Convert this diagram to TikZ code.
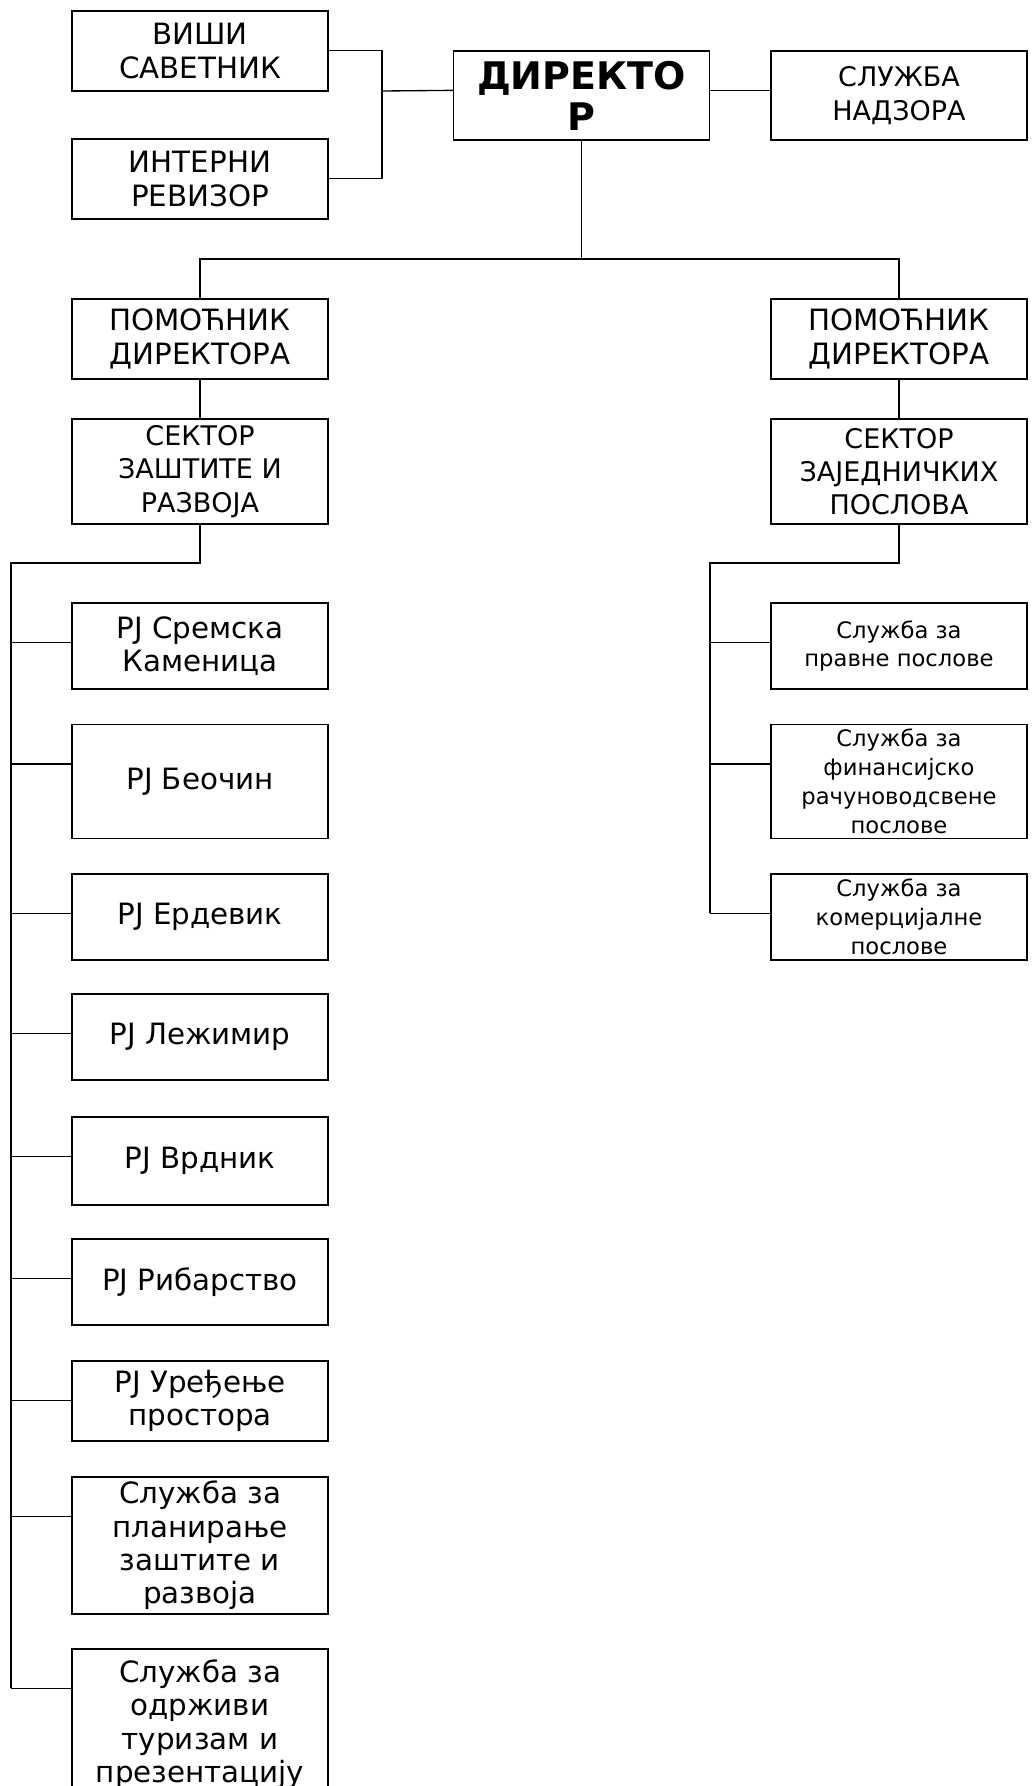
\documentclass[tikz,border=0pt]{standalone}
\usepackage{fontspec}
\setmainfont{DejaVu Sans}
\usetikzlibrary{calc}

\tikzset{
  unit/.style={draw, line width=1pt, minimum width=192pt, inner sep=1pt, align=center,
    font=\fontsize{22}{25}\selectfont},
  mid/.style={font=\fontsize{20.25}{25}\selectfont},
  small/.style={font=\fontsize{17}{21.6}\selectfont},
  head/.style={font=\bfseries\fontsize{28.5}{30.75}\selectfont},
  link/.style={line width=1pt},
}

\begin{document}
\begin{tikzpicture}[x=0.75pt,y=-0.75pt]
    \useasboundingbox (0,0) rectangle (1033,1786);
    \clip (0,0) rectangle (1033,1786);

    % top level
    \node[unit,minimum height=60pt] (visi) at (200,51) {ВИШИ\\САВЕТНИК};
    \node[unit,minimum height=60pt] (interni) at (200,179) {ИНТЕРНИ\\РЕВИЗОР};
    \node[unit,head,minimum height=66.75pt] (dir) at (581.5,95.5) {ДИРЕКТО\\Р};
    \node[unit,mid,minimum height=66.75pt] (nadzor) at (899,95.5) {СЛУЖБА\\НАДЗОРА};

    % assistants and sectors
    \node[unit,minimum height=60pt] (pom1) at (200,339) {ПОМОЋНИК\\ДИРЕКТОРА};
    \node[unit,minimum height=60pt] (pom2) at (899,339) {ПОМОЋНИК\\ДИРЕКТОРА};
    \node[unit,mid,minimum height=78.75pt] (sek1) at (200,471.5) {СЕКТОР\\ЗАШТИТЕ И\\РАЗВОЈА};
    \node[unit,mid,minimum height=78.75pt] (sek2) at (899,471.5) {СЕКТОР\\ЗАЈЕДНИЧКИХ\\ПОСЛОВА};

    % units of the left sector
    \node[unit,minimum height=64.5pt] (sremska) at (200,646) {PJ Сремска\\Каменица};
    \node[unit,minimum height=85.5pt] (beocin) at (200,781.5) {PJ Беочин};
    \node[unit,minimum height=64.5pt] (erdevik) at (200,917) {PJ Ердевик};
    \node[unit,minimum height=64.5pt] (lezimir) at (200,1037) {PJ Лежимир};
    \node[unit,minimum height=66pt] (vrdnik) at (200,1161) {PJ Врдник};
    \node[unit,minimum height=64.5pt] (ribarstvo) at (200,1282) {PJ Рибарство};
    \node[unit,minimum height=60pt] (uredjenje) at (200,1401) {PJ Уређење\\простора};
    \node[unit,minimum height=102.75pt] (planiranje) at (200,1545.5) {Служба за\\планирање\\заштите и\\развоја};
    \node[unit,minimum height=112.5pt] (odrzivi) at (200,1724) {Служба за\\одрживи\\туризам и\\презентацију};

    % services of the right sector
    \node[unit,small,minimum height=64.5pt] (pravne) at (899,646) {Служба за\\правне послове};
    \node[unit,small,minimum height=85.5pt] (finansije) at (899,781.5) {Служба за\\финансијско\\рачуноводсвене\\послове};
    \node[unit,small,minimum height=64.5pt] (komerc) at (899,917) {Служба за\\комерцијалне\\послове};

    % connectors
    \coordinate (tj) at (382,91);
    \draw[link] ($(visi.north east)+(0,40)$) -| (tj);
    \draw[link] ($(interni.north east)+(0,40)$) -| (tj);
    \draw[link] (tj) -- ($(dir.north west)+(0,40)$);
    \draw[link] ($(dir.north east)+(0,40)$) -- ($(nadzor.north west)+(0,40)$);

    \coordinate (split) at (581.5,259);
    \draw[link] (dir.south) -- (split);
    \draw[link] (pom1.north) |- (split) -| (pom2.north);
    \draw[link] (pom1.south) -- (sek1.north);
    \draw[link] (pom2.south) -- (sek2.north);

    \coordinate (lbus) at (11,563);
    \coordinate (rbus) at (710,563);
    \foreach \n in {sremska,beocin,erdevik,lezimir,vrdnik,ribarstvo,uredjenje,planiranje,odrzivi}{
        \coordinate (\n-in) at ($(\n.north west)+(0,40)$);
        \draw[link] (lbus |- \n-in) -- (\n-in);
    }
    \foreach \n in {pravne,finansije,komerc}{
        \coordinate (\n-in) at ($(\n.north west)+(0,40)$);
        \draw[link] (rbus |- \n-in) -- (\n-in);
    }
    \draw[link] (sek1.south) |- (lbus) -- (lbus |- odrzivi-in);
    \draw[link] (sek2.south) |- (rbus) -- (rbus |- komerc-in);
\end{tikzpicture}
\end{document}
